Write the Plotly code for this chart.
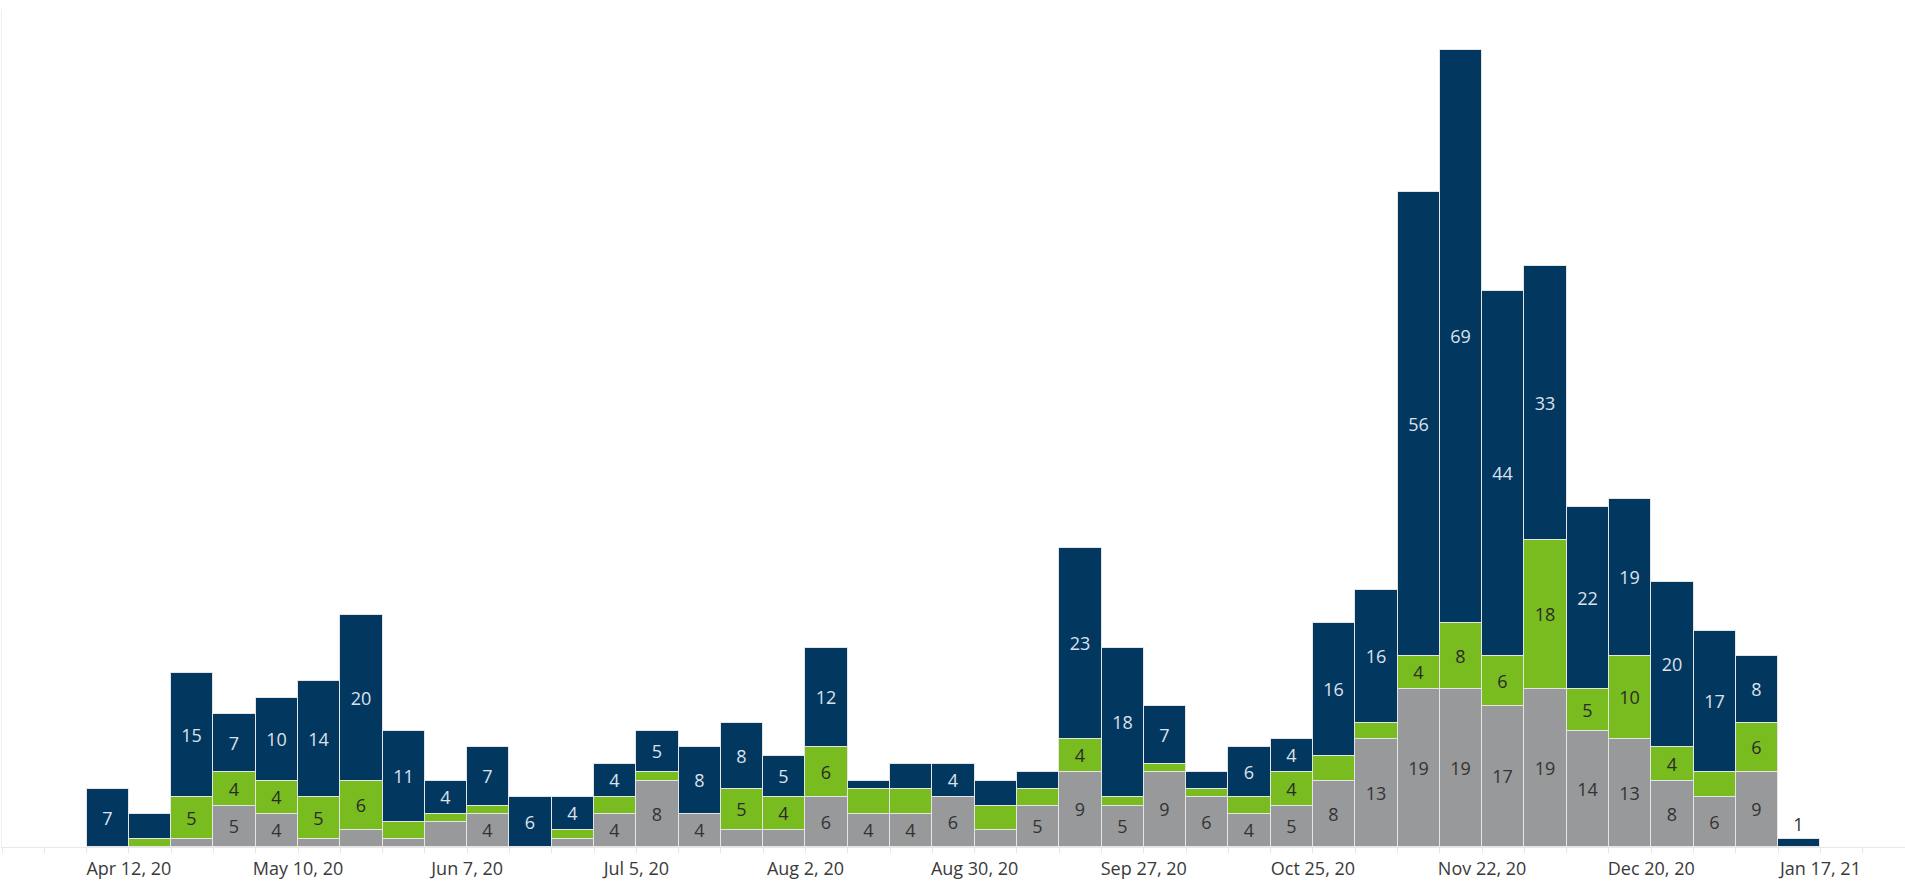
import plotly.graph_objects as go

# Week start dates (Sunday) for each bar
weeks = [
    "2020-04-05", "2020-04-12", "2020-04-19", "2020-04-26", "2020-05-03", "2020-05-10",
    "2020-05-17", "2020-05-24", "2020-05-31", "2020-06-07", "2020-06-14", "2020-06-21",
    "2020-06-28", "2020-07-05", "2020-07-12", "2020-07-19", "2020-07-26", "2020-08-02",
    "2020-08-09", "2020-08-16", "2020-08-23", "2020-08-30", "2020-09-06", "2020-09-13",
    "2020-09-20", "2020-09-27", "2020-10-04", "2020-10-11", "2020-10-18", "2020-10-25",
    "2020-11-01", "2020-11-08", "2020-11-15", "2020-11-22", "2020-11-29", "2020-12-06",
    "2020-12-13", "2020-12-20", "2020-12-27", "2021-01-03", "2021-01-10",
]

grey_vals = [0, 0, 1, 5, 4, 1, 2, 1, 3, 4, 0, 1, 4, 8, 4, 2, 2, 6, 4, 4, 6, 2, 5, 9,
             5, 9, 6, 4, 5, 8, 13, 19, 19, 17, 19, 14, 13, 8, 6, 9, 0]
green_vals = [0, 1, 5, 4, 4, 5, 6, 2, 1, 1, 0, 1, 2, 1, 0, 5, 4, 6, 3, 3, 0, 3, 2, 4,
              1, 1, 1, 2, 4, 3, 2, 4, 8, 6, 18, 5, 10, 4, 3, 6, 0]
navy_vals = [7, 3, 15, 7, 10, 14, 20, 11, 4, 7, 6, 4, 4, 5, 8, 8, 5, 12, 1, 3, 4, 3, 2, 23,
             18, 7, 2, 6, 4, 16, 16, 56, 69, 44, 33, 22, 19, 20, 17, 8, 1]

tick_dates = ["2020-04-12", "2020-05-10", "2020-06-07", "2020-07-05", "2020-08-02",
              "2020-08-30", "2020-09-27", "2020-10-25", "2020-11-22", "2020-12-20",
              "2021-01-17"]
tick_labels = ["Apr 12, 20", "May 10, 20", "Jun 7, 20", "Jul 5, 20", "Aug 2, 20",
               "Aug 30, 20", "Sep 27, 20", "Oct 25, 20", "Nov 22, 20", "Dec 20, 20",
               "Jan 17, 21"]

WEEK_MS = 7 * 24 * 3600 * 1000
FONT = "Open Sans"
MIN_LABEL = 4

NAVY = "#02375F"
GREEN = "#78BC20"
GREY = "#98999B"
EDGE = "#E4E4E4"


def labels(vals, keep_small_last=False):
    out = []
    for i, v in enumerate(vals):
        if v >= MIN_LABEL or (keep_small_last and i == len(vals) - 1 and v > 0):
            out.append(str(v))
        else:
            out.append("")
    return out


fig = go.Figure()

common = dict(
    x=weeks,
    xperiod=WEEK_MS,
    xperiodalignment="middle",
    width=[WEEK_MS] * len(weeks),
    textangle=0,
    insidetextanchor="middle",
    constraintext="none",
    hoverinfo="skip",
)

fig.add_trace(go.Bar(
    y=grey_vals, name="grey", marker=dict(color=GREY, line=dict(color=EDGE, width=1)),
    text=labels(grey_vals), textposition="inside",
    insidetextfont=dict(family=FONT, size=18, color="#333333"),
    **common,
))
fig.add_trace(go.Bar(
    y=green_vals, name="green", marker=dict(color=GREEN, line=dict(color=EDGE, width=1)),
    text=labels(green_vals), textposition="inside",
    insidetextfont=dict(family=FONT, size=18, color="#2b2b2b"),
    **common,
))
navy_pos = ["inside"] * (len(weeks) - 1) + ["outside"]
fig.add_trace(go.Bar(
    y=navy_vals, name="navy", marker=dict(color=NAVY, line=dict(color=EDGE, width=1)),
    text=labels(navy_vals, keep_small_last=True), textposition=navy_pos,
    insidetextfont=dict(family=FONT, size=18, color="#DCE2EC"),
    outsidetextfont=dict(family=FONT, size=18, color="#333333"),
    cliponaxis=False,
    **common,
))

fig.update_layout(
    width=1905,
    height=884,
    barmode="stack",
    bargap=0,
    showlegend=False,
    plot_bgcolor="white",
    paper_bgcolor="white",
    margin=dict(l=2, r=0, t=9, b=37),
    font=dict(family=FONT, color="#3a3a3a"),
    xaxis=dict(
        type="date",
        range=["2020-03-22", "2021-01-31"],
        tickvals=tick_dates,
        ticktext=tick_labels,
        tickfont=dict(family=FONT, size=18, color="#3a3a3a"),
        ticks="outside",
        ticklen=5,
        tickcolor="#E6E6E6",
        showgrid=False,
        zeroline=False,
        showline=True,
        linecolor="#E8E8E8",
        linewidth=1,
        minor=dict(
            dtick=WEEK_MS,
            tick0="2020-04-05",
            ticks="outside",
            ticklen=5,
            tickcolor="#E6E6E6",
            showgrid=False,
        ),
    ),
    yaxis=dict(
        range=[0, 101],
        showticklabels=False,
        showgrid=False,
        zeroline=False,
        showline=True,
        linecolor="#F0F0F0",
        ticks="",
    ),
)

fig.write_html(
    "out.html",
    config={"displayModeBar": False},
    post_script="document.body.style.margin='0';document.body.style.overflow='hidden';",
)
